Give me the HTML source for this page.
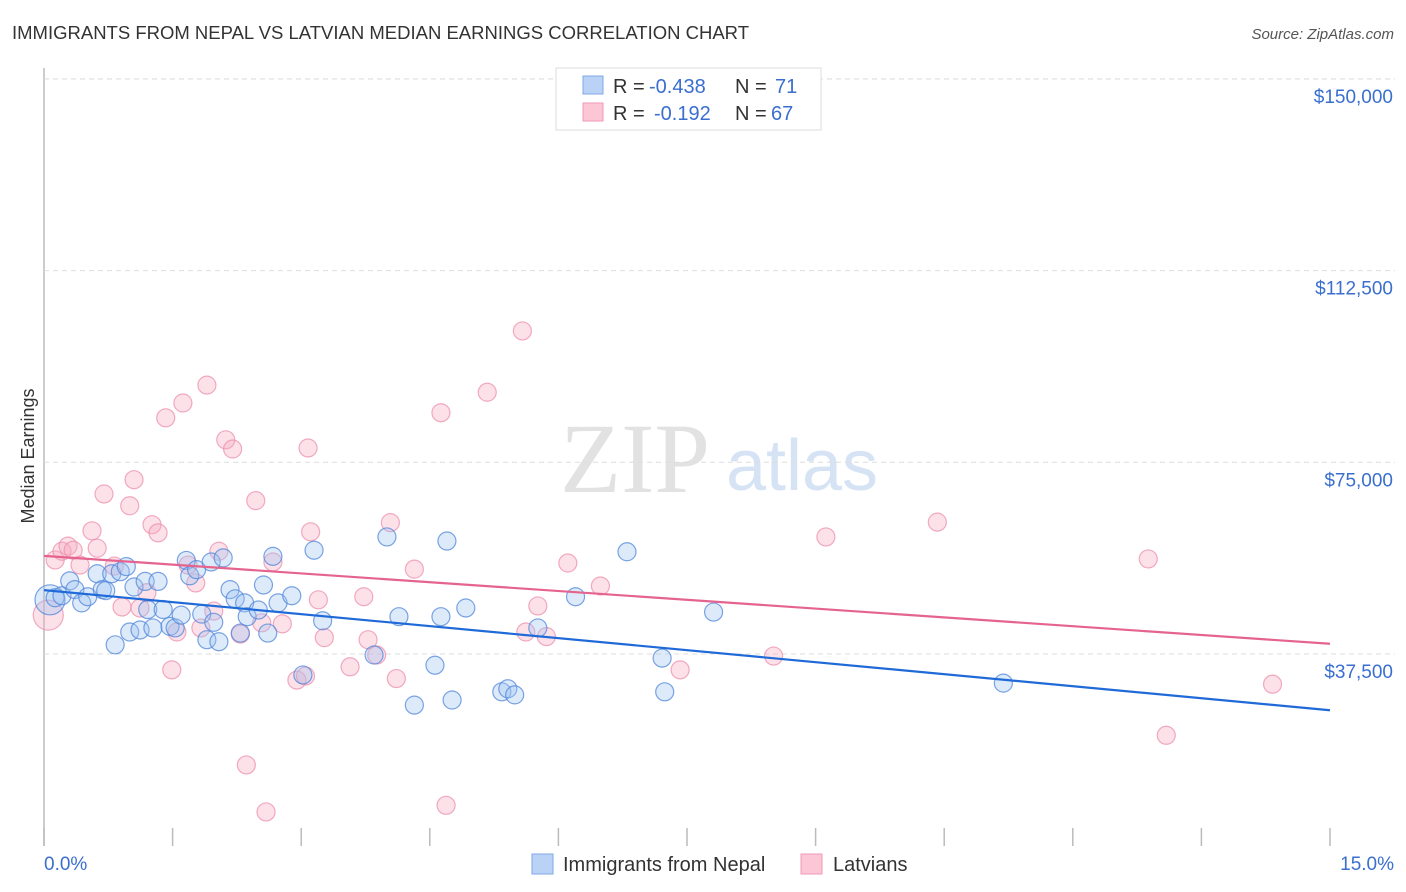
<!DOCTYPE html>
<html><head><meta charset="utf-8"><style>
body{margin:0;background:#fff;font-family:"Liberation Sans",sans-serif;}
#wrap{position:relative;width:1406px;height:892px;overflow:hidden;}
</style></head><body>
<div id="wrap">
<svg id="svg" width="1406" height="892" xmlns="http://www.w3.org/2000/svg">
<text x="12" y="39" font-size="18.5" fill="#333">IMMIGRANTS FROM NEPAL VS LATVIAN MEDIAN EARNINGS CORRELATION CHART</text>
<text x="1394" y="39" font-size="15" fill="#555" text-anchor="end" font-style="italic">Source: ZipAtlas.com</text>
<text x="635" y="492" font-size="100" fill="#e2e2e2" text-anchor="middle" font-family="Liberation Serif, serif">ZIP</text>
<text x="802" y="490" font-size="72" fill="#d6e3f5" text-anchor="middle">atlas</text>
<text transform="translate(34,456) rotate(-90)" font-size="18" fill="#333" text-anchor="middle">Median Earnings</text>
<g id="grid"></g><g id="pts"></g><g id="lines"></g>
<g>
<rect x="556" y="68" width="265" height="62" fill="#fff" stroke="#ddd"/>
<rect x="583" y="76" width="20" height="18" fill="#b9d2f5" stroke="#7ea8e6"/>
<rect x="583" y="103" width="20" height="18" fill="#fcc6d6" stroke="#f09ab4"/>
<text x="613" y="93" font-size="20" fill="#333">R =</text>
<text x="649" y="93" font-size="20" fill="#3a6fcf">-0.438</text>
<text x="735" y="93" font-size="20" fill="#333">N =</text>
<text x="775" y="93" font-size="20" fill="#3a6fcf">71</text>
<text x="613" y="120" font-size="20" fill="#333">R =</text>
<text x="654" y="120" font-size="20" fill="#3a6fcf">-0.192</text>
<text x="735" y="120" font-size="20" fill="#333">N =</text>
<text x="771" y="120" font-size="20" fill="#3a6fcf">67</text>
</g>
<g>
<rect x="532" y="854" width="21" height="20" fill="#b9d2f5" stroke="#7ea8e6"/>
<text x="563" y="871" font-size="20" fill="#333">Immigrants from Nepal</text>
<rect x="801" y="854" width="21" height="20" fill="#fcc6d6" stroke="#f09ab4"/>
<text x="833" y="871" font-size="20" fill="#333">Latvians</text>
</g>
</svg>
</div>
<script>
const yTicks=[37500,75000,112500,150000];
const yTickLabels=["$37,500","$75,000","$112,500","$150,000"];
const xTickLabels=["0.0%","15.0%"];
const nepalX=[0.07,0.13,0.21,0.30,0.36,0.44,0.51,0.62,0.68,0.72,0.79,0.83,0.89,0.96,1.00,1.05,1.12,1.18,1.21,1.27,1.33,1.39,1.47,1.53,1.60,1.66,1.70,1.78,1.84,1.90,1.95,1.98,2.04,2.09,2.17,2.23,2.29,2.34,2.37,2.50,2.56,2.61,2.67,2.73,2.89,3.02,3.15,3.25,3.85,4.00,4.14,4.32,4.56,4.63,4.70,4.76,4.92,5.34,5.41,5.49,5.76,6.20,6.80,7.21,7.24,7.81,11.19];
const nepalY=[48100,48500,48900,51800,50100,47500,48700,53200,50100,49900,53200,39300,53600,54600,41800,50600,42200,51700,46200,42600,51700,46200,42900,42600,45100,55800,52800,54000,45300,40300,55500,43700,39900,56300,50100,48300,41600,47500,44800,46100,51000,41600,56600,47500,48900,33400,57800,44000,37300,60400,44800,27500,35300,44800,59600,28500,46500,30100,30700,29500,42600,48700,57500,36700,30100,45700,31800];
const latX=[0.05,0.13,0.21,0.28,0.34,0.42,0.56,0.62,0.70,0.82,0.91,1.00,1.05,1.12,1.20,1.26,1.33,1.42,1.49,1.55,1.62,1.68,1.77,1.83,1.90,1.98,2.04,2.12,2.20,2.29,2.36,2.47,2.54,2.59,2.67,2.78,2.95,3.05,3.08,3.11,3.20,3.27,3.57,3.73,3.78,3.88,4.04,4.11,4.32,4.63,4.69,5.17,5.58,5.62,5.76,5.86,6.11,6.49,7.42,8.51,9.12,10.42,12.88,13.09,14.33];
const latY=[45100,55900,57600,58600,57800,54900,61600,58200,68800,54700,46700,66500,71600,46500,49500,62800,61200,83700,34400,41800,86600,54900,51400,42600,90100,45900,57600,79400,77600,41400,15800,67500,43600,6600,55500,43400,32400,33200,77800,61400,48100,40700,35000,48700,40300,37300,63200,32700,54100,84700,7900,88700,100700,41800,46900,40900,55300,50800,34400,37100,60400,63300,56100,21600,31600];
const nepalTrend=[50000,26500];
const latTrend=[56700,39500];
const NS="http://www.w3.org/2000/svg";
const X0=44,X1=1330,Y0=845.7,YK=191.7/37500;
const xs=v=>X0+(v/15)*(X1-X0);
const ys=v=>Y0-v*YK;
function mk(tag,at,parent){const e=document.createElementNS(NS,tag);for(const k in at)e.setAttribute(k,at[k]);parent.appendChild(e);return e;}
const grid=document.getElementById('grid');
const ax=mk('line',{x1:44,y1:68,x2:44,y2:846,stroke:'#bbb','stroke-width':1.5},grid);


const topG=mk('line',{x1:44,y1:79,x2:1395,y2:79,stroke:'#ddd','stroke-dasharray':'5,4'},grid);


yTicks.forEach((t,i)=>{
 const g=mk('line',{x1:44,y1:ys(t),x2:1395,y2:ys(t),stroke:'#ddd','stroke-dasharray':'5,4'},grid);
 
 
 const l=mk('text',{x:1393,y:ys(t)+24,'font-size':19,fill:'#3a6fcf','text-anchor':'end'},grid);
 l.textContent=yTickLabels[i];
 
 
});
for(let i=0;i<=10;i++){
 const t=mk('line',{x1:xs(i*1.5),y1:828,x2:xs(i*1.5),y2:846,stroke:'#bbb','stroke-width':1.5},grid);
 
 
}
const xl0=mk('text',{x:44,y:870,'font-size':19,fill:'#3a6fcf'},grid);xl0.textContent=xTickLabels[0];


const xl1=mk('text',{x:1394,y:870,'font-size':19,fill:'#3a6fcf','text-anchor':'end'},grid);xl1.textContent=xTickLabels[1];


const pts=document.getElementById('pts');
function draw(X,Y,fill,stroke,name){
 X.forEach((x,i)=>{
  const r=i===0?15:9;
  const c=mk('circle',{cx:xs(x),cy:ys(Y[i]),r:r,fill:fill,'fill-opacity':0.35,stroke:stroke,'stroke-opacity':0.75,'stroke-width':1.2},pts);
  
  
 });
}
draw(latX,latY,'#f7a8c0','#ec8fae','latvian-point');
draw(nepalX,nepalY,'#9fc2f0','#4f86d9','nepal-point');
const lines=document.getElementById('lines');
const bl=mk('line',{x1:xs(0),y1:ys(nepalTrend[0]),x2:xs(15),y2:ys(nepalTrend[1]),stroke:'#1f6ad8','stroke-width':2.2},lines);


const pl=mk('line',{x1:xs(0),y1:ys(latTrend[0]),x2:xs(15),y2:ys(latTrend[1]),stroke:'#e5638f','stroke-width':2.2},lines);


</script>
</body></html>
